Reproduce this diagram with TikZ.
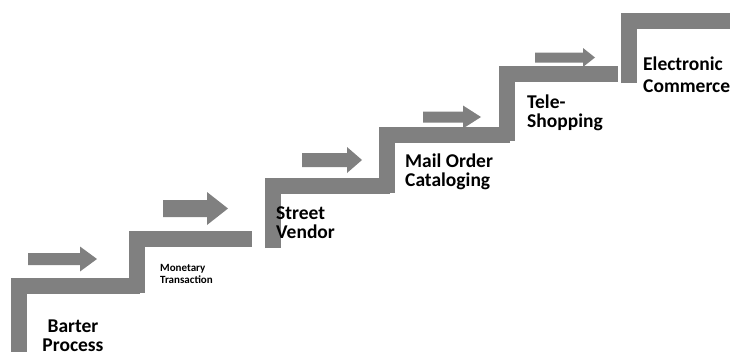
\documentclass[tikz,border=0pt]{standalone}
\usepackage{fontspec}
\setmainfont{Carlito}
\usepackage{tikz}
\usetikzlibrary{positioning}
\definecolor{stair_gray}{RGB}{128, 128, 128}

\begin{document}
\begin{tikzpicture}[
        x=1pt, y=-1pt,
        stair/.style={draw=stair_gray, line width=16pt, line join=miter, line cap=butt},
        steplabel/.style={inner sep=0pt, align=left, font=\fontsize{19.5}{19}\selectfont\bfseries},
        every node/.style={inner sep=0pt}
    ]
        \useasboundingbox (0, 0) rectangle (739, 351);

        % -------- Scalini --------
        % ogni scalino: montante verticale + pedata orizzontale
        \foreach \xv/\yb/\yh/\xe in {18.5/365/285.5/140, 136.5/293/238.5/252, 273/248/186/390,
                                     386.5/193/135/510, 506.5/141/73.5/618, 628.5/83/20.5/730}{
            \draw[stair] (\xv, \yb) |- (\xe, \yh);
        }

        % -------- Frecce piene --------
        % coda / punta / centro / mezzo fusto / mezza testa / lunghezza testa
        \foreach \xa/\xb/\yc/\sh/\hh/\hl in {28/97/259/6/12.5/17, 163/228/208.5/8.5/16.5/21,
                                             302/362/160/7/13/15, 423/481/117/5.5/11.5/18,
                                             535/595/57.5/5/9.5/12}{
            \fill[stair_gray] ({\xa}, {\yc-\sh}) -- ({\xb-\hl}, {\yc-\sh}) -- ({\xb-\hl}, {\yc-\hh})
                -- ({\xb}, {\yc}) -- ({\xb-\hl}, {\yc+\hh}) -- ({\xb-\hl}, {\yc+\sh})
                -- ({\xa}, {\yc+\sh}) -- cycle;
        }

        % -------- Etichette --------
        \node[steplabel, align=center, anchor=north] (barter) at (73, 320) {Barter\\Process};
        \node[steplabel, anchor=north west, font=\fontsize{11}{12}\selectfont\bfseries] (monetary) at (160, 264) {Monetary\\Transaction};
        \node[steplabel, anchor=north west] (street) at (276, 207) {Street\\Vendor};
        \node[steplabel, anchor=north west] (mail) at (405, 154) {Mail Order\\Cataloging};
        \node[steplabel, anchor=north west] (tele) at (527, 95) {Tele-\\Shopping};
        \node[steplabel, anchor=north west, font=\fontsize{19.5}{22}\selectfont\bfseries] (ecommerce) at (643, 57) {Electronic\\Commerce};

    \end{tikzpicture}
\end{document}
